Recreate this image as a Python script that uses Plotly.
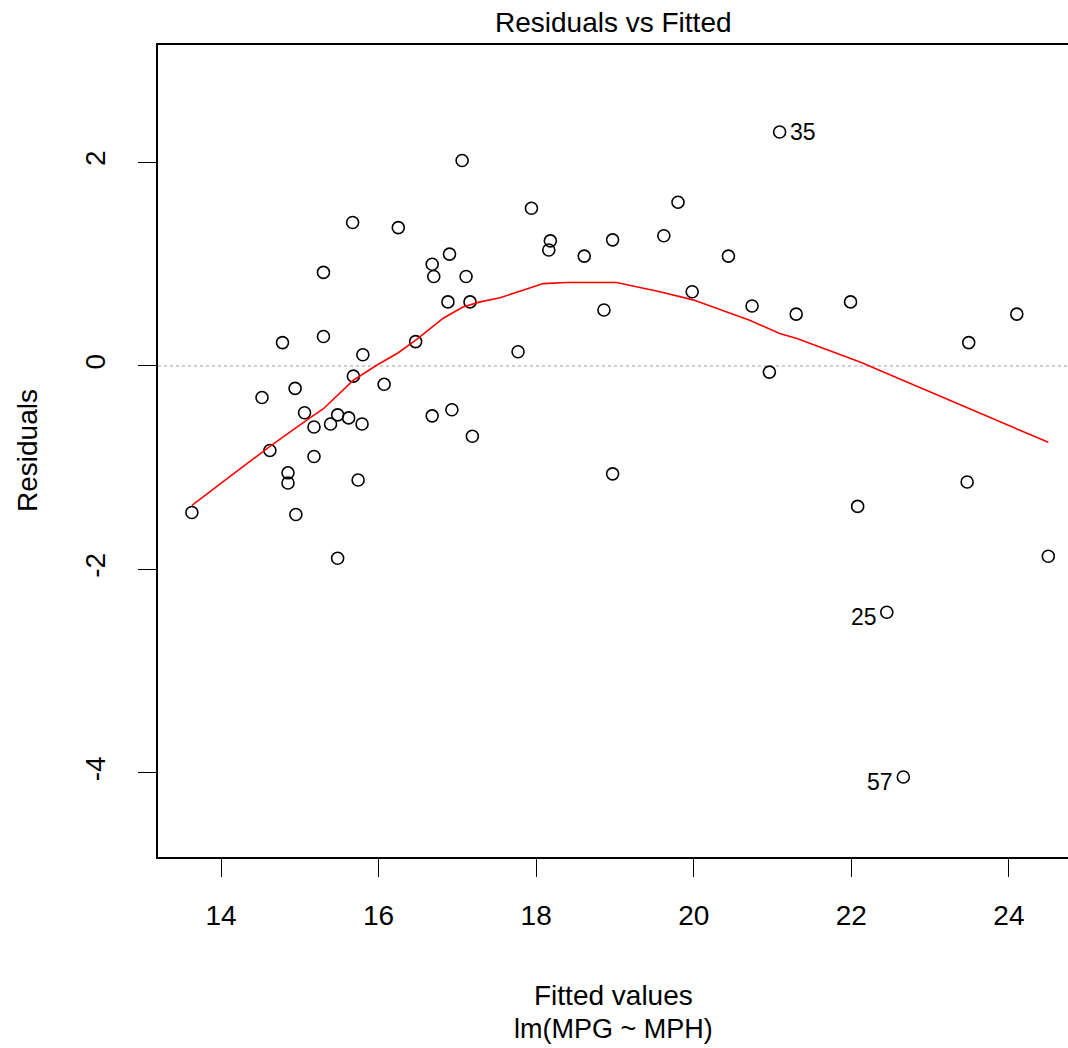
import plotly.graph_objects as go

# Fitted values and residuals
fitted = [13.63, 14.52, 14.62, 14.78, 14.85, 14.85, 14.94, 14.95, 15.06, 15.18,
          15.18, 15.30, 15.30, 15.39, 15.48, 15.48, 15.62, 15.67, 15.68, 15.74,
          15.79, 15.80, 16.07, 16.25, 16.47, 16.68, 16.68, 16.70, 16.88, 16.90,
          16.93, 17.06, 17.11, 17.16, 17.19, 17.77, 17.94, 18.16, 18.18, 18.61,
          18.86, 18.97, 18.97, 19.62, 19.80, 19.98, 20.44, 20.74, 20.96, 21.09,
          21.30, 21.99, 22.08, 22.45, 22.66, 23.47, 23.49, 24.10, 24.50]
residuals = [-1.44, -0.31, -0.83, 0.23, -1.05, -1.15, -0.22, -1.46, -0.46, -0.60,
             -0.89, 0.92, 0.29, -0.57, -0.48, -1.89, -0.51, 1.41, -0.10, -1.12,
             -0.57, 0.11, -0.18, 1.36, 0.24, 1.00, -0.49, 0.88, 0.63, 1.10,
             -0.43, 2.02, 0.88, 0.63, -0.69, 0.14, 1.55, 1.14, 1.23, 1.08,
             0.55, 1.24, -1.06, 1.28, 1.61, 0.73, 1.08, 0.59, -0.06, 2.30,
             0.51, 0.63, -1.38, -2.42, -4.04, -1.14, 0.23, 0.51, -1.87]

# Smoother (lowess) curve
smooth_x = [13.63, 14.62, 15.11, 15.30, 15.68, 15.98, 16.25, 16.48, 16.82, 17.07,
            17.29, 17.54, 18.09, 18.39, 19.02, 19.57, 19.99, 20.71, 21.09, 21.31,
            22.11, 24.50]
smooth_y = [-1.37, -0.79, -0.52, -0.42, -0.14, 0.01, 0.13, 0.26, 0.47, 0.58,
            0.63, 0.67, 0.81, 0.82, 0.82, 0.73, 0.65, 0.45, 0.32, 0.27,
            0.04, -0.75]

# Labelled outliers (index into fitted/residuals, label, side)
outlier_idx = [49, 53, 54]
outlier_labels = ["35", "25", "57"]
outlier_side = ["right", "left", "left"]

x_ticks = [14, 16, 18, 20, 22, 24]
y_ticks = [-4, -2, 0, 2]
y_ticktext = ["-4", "-2", "0", "2"]

FONT = "Liberation Sans, Arial, sans-serif"

fig = go.Figure()
fig.add_trace(go.Scatter(
    x=fitted, y=residuals, mode="markers",
    marker=dict(symbol="circle-open", size=12, color="black", line=dict(width=1.6)),
    showlegend=False, hoverinfo="x+y"))
fig.add_trace(go.Scatter(
    x=smooth_x, y=smooth_y, mode="lines",
    line=dict(color="#FF0000", width=1.6), showlegend=False))

fig.add_shape(type="line", xref="paper", x0=0, x1=1, yref="y", y0=0, y1=0,
              line=dict(color="#BEBEBE", width=1.3, dash="dot"), layer="below")

for i, lab, side in zip(outlier_idx, outlier_labels, outlier_side):
    fig.add_annotation(
        x=fitted[i], y=residuals[i], text=lab, showarrow=False,
        xanchor="left" if side == "right" else "right",
        xshift=8 if side == "right" else -8,
        yshift=0 if side == "right" else -5,
        font=dict(family=FONT, size=23, color="black"))

fig.add_annotation(text="Residuals vs Fitted", xref="paper", yref="paper",
                   x=0.5, y=1, yshift=23, yanchor="middle", showarrow=False,
                   font=dict(family=FONT, size=28, color="black"))
fig.add_annotation(text="Fitted values", xref="paper", yref="paper",
                   x=0.5, y=0, yshift=-138, yanchor="middle", showarrow=False,
                   font=dict(family=FONT, size=28, color="black"))
fig.add_annotation(text="lm(MPG ~ MPH)", xref="paper", yref="paper",
                   x=0.5, y=0, yshift=-172, yanchor="middle", showarrow=False,
                   font=dict(family=FONT, size=27, color="black"))
fig.add_annotation(text="Residuals", xref="paper", yref="paper",
                   x=0, xshift=-131, y=0.5, xanchor="center", yanchor="middle",
                   textangle=-90, showarrow=False,
                   font=dict(family=FONT, size=28, color="black"))

fig.update_layout(
    width=1068, height=1048,
    margin=dict(l=158, r=0, t=45, b=191),
    paper_bgcolor="white", plot_bgcolor="white",
    font=dict(family=FONT, size=28, color="black"),
    xaxis=dict(range=[13.2, 24.75], tickvals=x_ticks, showgrid=False, zeroline=False,
               showline=True, mirror=True, linecolor="black", linewidth=1.5,
               ticks="outside", ticklen=18, tickwidth=1.2, tickcolor="black",
               ticklabelstandoff=15, tickfont=dict(family=FONT, size=28)),
    yaxis=dict(range=[-4.826, 3.155], tickvals=y_ticks, ticktext=y_ticktext,
               showgrid=False, zeroline=False,
               showline=True, mirror=False, linecolor="black", linewidth=1.5,
               ticks="outside", ticklen=18, tickwidth=1.2, tickcolor="black",
               tickangle=-90, ticklabelstandoff=22, tickfont=dict(family=FONT, size=28)),
)

fig.write_html(
    "out.html",
    config={"displayModeBar": False},
    post_script="document.body.style.margin='0';document.body.style.overflow='hidden';"
                "document.documentElement.style.overflow='hidden';",
)
